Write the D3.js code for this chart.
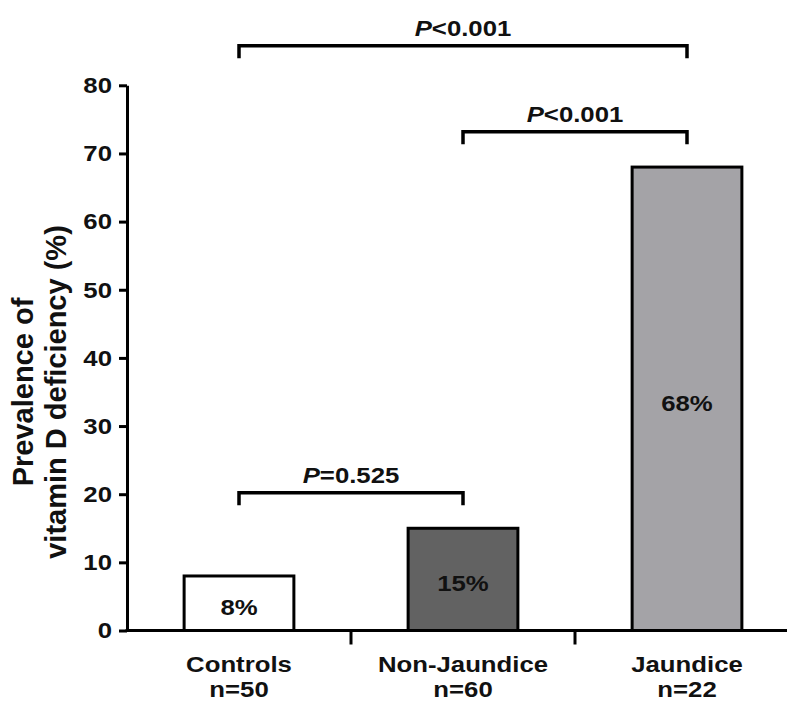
<!DOCTYPE html>
<html>
<head>
<meta charset="utf-8">
<script src="https://cdn.jsdelivr.net/npm/d3@7"></script>
<style>
  html, body { margin: 0; padding: 0; background: #fff; }
  svg text { font-family: "Liberation Sans", Arial, Helvetica, sans-serif; font-weight: bold; fill: #111; }
</style>
</head>
<body>
<svg id="chart" width="787" height="703"></svg>
<script>
// Prevalence of vitamin D deficiency by group
const categories = ["Controls", "Non-Jaundice", "Jaundice"];
const sampleSizes = ["n=50", "n=60", "n=22"];
const prevalence = [8, 15, 68];
const barLabels = ["8%", "15%", "68%"];
const barFills = ["#ffffff", "#626262", "#a4a3a7"];
const yTicks = [0, 10, 20, 30, 40, 50, 60, 70, 80];

// Significance comparisons: group pair, operator, p-value
const comparisonPairs = [["Controls", "Jaundice"], ["Non-Jaundice", "Jaundice"], ["Controls", "Non-Jaundice"]];
const comparisonOps = ["<", "<", "="];
const comparisonP = ["0.001", "0.001", "0.525"];
// height of each bracket in axis units
const bracketLevels = [85.8, 73.2, 20.2];

const svg = d3.select("#chart");
const SX = 1.12;          // horizontal widening of the lettering
const FS = 23;

const y = d3.scaleLinear().domain([0, 80]).range([630.5, 85.3]);
const x = d3.scaleBand().domain(categories).range([127, 799]).paddingInner(0).paddingOuter(0);
const step = x.step();
const barW = step * 0.49;
const cx = c => x(c) + step / 2;

function label(g, tx, ty, anchor, size) {
  return g.append("text")
    .attr("transform", `translate(${tx},${ty}) scale(${SX},1)`)
    .attr("text-anchor", anchor)
    .style("font-size", size + "px");
}

// Bars
svg.append("g").selectAll("rect")
  .data(categories)
  .join("rect")
  .attr("x", (c) => cx(c) - barW / 2)
  .attr("width", barW)
  .attr("y", (c, i) => y(prevalence[i]))
  .attr("height", (c, i) => y(0) - y(prevalence[i]))
  .attr("fill", (c, i) => barFills[i])
  .attr("stroke", "#000")
  .attr("stroke-width", 3);

// Value labels inside the bars
categories.forEach((c, i) => {
  label(svg, cx(c), y(prevalence[i] / 2) + 12, "middle", FS).text(barLabels[i]);
});

// Y axis
const yAxis = svg.append("g")
  .attr("transform", `translate(${x.range()[0]},0)`)
  .call(d3.axisLeft(y).tickValues(yTicks).tickSize(8).tickSizeOuter(0).tickPadding(7));
yAxis.select(".domain").attr("stroke", "#000").attr("stroke-width", 3);
yAxis.selectAll(".tick line").attr("stroke", "#000").attr("stroke-width", 3);
yAxis.selectAll(".tick text")
  .attr("x", -15 / SX)
  .attr("transform", `scale(${SX},1)`)
  .style("font-size", FS + "px")
  .style("font-family", "'Liberation Sans', Arial, sans-serif")
  .style("font-weight", "bold")
  .attr("fill", "#111");

// X axis baseline with group separators
const xAxis = svg.append("g");
xAxis.append("line")
  .attr("x1", x.range()[0] - 1.5).attr("x2", 787)
  .attr("y1", y(0)).attr("y2", y(0))
  .attr("stroke", "#000").attr("stroke-width", 3);
xAxis.selectAll("line.sep")
  .data(categories.slice(0, -1))
  .join("line")
  .attr("class", "sep")
  .attr("x1", c => x(c) + step).attr("x2", c => x(c) + step)
  .attr("y1", y(0)).attr("y2", y(0) + 14)
  .attr("stroke", "#000").attr("stroke-width", 3);

categories.forEach((c, i) => {
  label(xAxis, cx(c), 671.5, "middle", FS).text(c);
  label(xAxis, cx(c), 697, "middle", FS).text(sampleSizes[i]);
});

// Y axis title
const title = ["Prevalence of", "vitamin D deficiency (%)"];
[33, 66].forEach((bx, i) => {
  svg.append("text")
    .attr("transform", `translate(${bx},392) rotate(-90)`)
    .attr("text-anchor", "middle")
    .style("font-size", "29px")
    .text(title[i]);
});

// Significance brackets
const br = svg.append("g");
comparisonPairs.forEach((pair, i) => {
  const x1 = cx(pair[0]), x2 = cx(pair[1]);
  const ly = y(bracketLevels[i]);
  br.append("path")
    .attr("d", `M${x1},${ly + 12.5}V${ly}H${x2}V${ly + 12.5}`)
    .attr("fill", "none").attr("stroke", "#000").attr("stroke-width", 3.5);
  const t = label(br, (x1 + x2) / 2, ly - 9.5, "middle", FS);
  t.append("tspan").style("font-style", "italic").text("P");
  t.append("tspan").text(comparisonOps[i] + comparisonP[i]);
});
</script>
</body>
</html>
